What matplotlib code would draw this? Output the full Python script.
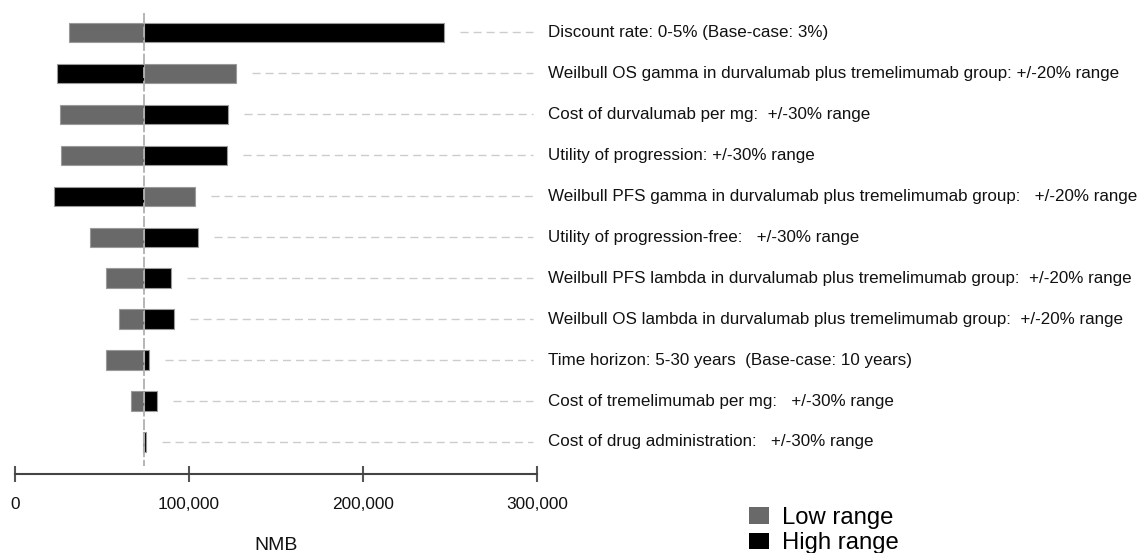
import matplotlib
matplotlib.use("Agg")
import matplotlib.pyplot as plt
from matplotlib.patches import Patch
from matplotlib.ticker import FuncFormatter

plt.rcParams['font.family'] = ['Liberation Sans', 'DejaVu Sans']

# ---- data ----
parameters = [
    "Discount rate: 0-5% (Base-case: 3%)",
    "Weilbull OS gamma in durvalumab plus tremelimumab group: +/-20% range",
    "Cost of durvalumab per mg:  +/-30% range",
    "Utility of progression: +/-30% range",
    "Weilbull PFS gamma in durvalumab plus tremelimumab group:   +/-20% range",
    "Utility of progression-free:   +/-30% range",
    "Weilbull PFS lambda in durvalumab plus tremelimumab group:  +/-20% range",
    "Weilbull OS lambda in durvalumab plus tremelimumab group:  +/-20% range",
    "Time horizon: 5-30 years  (Base-case: 10 years)",
    "Cost of tremelimumab per mg:   +/-30% range",
    "Cost of drug administration:   +/-30% range",
]
base_nmb = 74000
low_nmb = [31300, 127000, 25800, 26700, 103200, 43200, 52300, 59600, 52300, 66900, 73400]
high_nmb = [246800, 24100, 122600, 121700, 22200, 105100, 89600, 91300, 77000, 81500, 75100]
xticks = [0, 100000, 200000, 300000]

low_color = "#696969"
high_color = "#000000"

W, H = 1142, 553
fig = plt.figure(figsize=(W / 100, H / 100), dpi=100)

# axes placement in pixels
x0_px, x1_px = 15, 537
top_px, bot_px = 13, 474
ax = fig.add_axes([x0_px / W, (H - bot_px) / H, (x1_px - x0_px) / W, (bot_px - top_px) / H])

row0_px, row_step = 32.3, 40.97
ax.set_ylim((bot_px - row0_px) / row_step, (top_px - row0_px) / row_step)
ax.set_xlim(0, 300000)
px_per_unit = (x1_px - x0_px) / 300000

ys = list(range(len(parameters)))
bar_h = 0.47
for y, lo, hi, label in zip(ys, low_nmb, high_nmb, parameters):
    ax.barh(y, lo - base_nmb, left=base_nmb, height=bar_h, color=low_color,
            edgecolor="#9a9a9a", linewidth=0.8, zorder=2)
    ax.barh(y, hi - base_nmb, left=base_nmb, height=bar_h, color=high_color,
            edgecolor="#9a9a9a", linewidth=0.8, zorder=2)
    end = max(lo, hi)
    start = end + 16 / px_per_unit
    stop = (533 - x0_px) / px_per_unit
    ax.plot([start, stop], [y, y], color="#cccccc", lw=1.0, dashes=(5.8, 3.6),
            clip_on=False, zorder=1)
    ax.text((548 - x0_px) / px_per_unit, y, label, fontsize=12.25,
            va="center", ha="left", color="#111111", clip_on=False)

# base-case vertical line
y_top = (top_px - row0_px) / row_step
y_bot = (466 - row0_px) / row_step
ax.plot([base_nmb, base_nmb], [y_top, y_bot], color="#b0b0b0", lw=1.3,
        dashes=(6, 1.5), zorder=3, clip_on=False)

for s in ["top", "right", "left"]:
    ax.spines[s].set_visible(False)
ax.spines["bottom"].set_color("#444444")
ax.spines["bottom"].set_linewidth(1.5)
ax.set_yticks([])
ax.set_xticks(xticks)
ax.xaxis.set_major_formatter(FuncFormatter(lambda v, p: f"{int(v):,}"))
ax.tick_params(axis="x", direction="inout", length=11, width=1.5, color="#555555",
               labelsize=12.4, pad=11, labelcolor="#111111")
ax.set_xlabel("NMB", fontsize=14, labelpad=18, color="#111111")
ax.patch.set_alpha(0)

handles = [Patch(facecolor=low_color, edgecolor="none", label="Low range"),
           Patch(facecolor=high_color, edgecolor="none", label="High range")]
fig.legend(handles=handles, loc="upper left", bbox_to_anchor=(749 / W, (H - 507) / H),
           frameon=False, fontsize=17.2, handlelength=0.85, handleheight=0.68,
           handletextpad=0.55, labelspacing=0.13, borderaxespad=0, borderpad=0)

fig.savefig("out.png", dpi=100)
